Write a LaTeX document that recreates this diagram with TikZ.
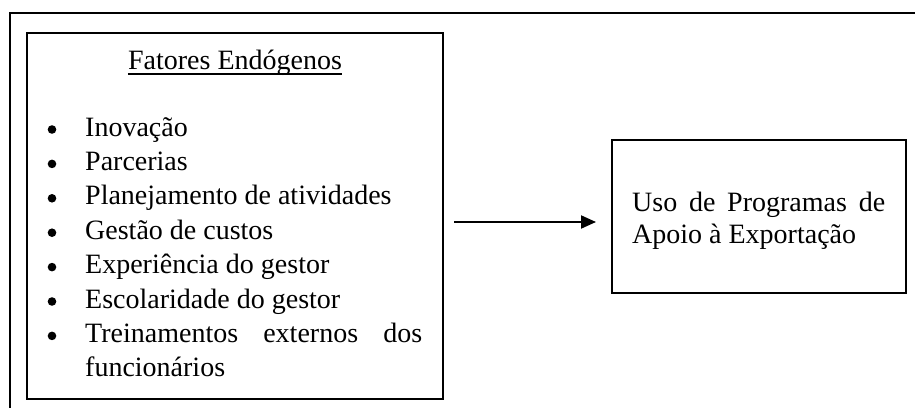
\documentclass[tikz,border=0pt]{standalone}
\usepackage{fontspec}
\setmainfont{Liberation Serif}
\usetikzlibrary{arrows.meta}
\begin{document}
\begin{tikzpicture}[x=1pt,y=1pt,
  frame/.style={line width=2.4pt},
  box/.style={draw, line width=2pt, rectangle, inner sep=0pt},
  txt/.style={anchor=base west, inner sep=0pt, font=\fontsize{28}{34}\selectfont},
  dot/.style={circle, fill, inner sep=0pt, minimum size=8.6pt},
  flow/.style={line width=2pt, -{Triangle[length=15pt,width=13pt]}}]
\useasboundingbox (0,0) rectangle (915,408);

% outer frame (top and left edges)
\draw[frame] (915,395) -- (10,395) -- (10,0);

% boxes
\node[box, minimum width=416pt, minimum height=366pt] (endo) at (235,192) {};
\node[box, minimum width=294pt, minimum height=153pt] (prog) at (759,191.5) {};

% heading of the left box
\node[txt, anchor=base] (head) at (235,338) {Fatores Endógenos};
\draw[line width=1.4pt] ([yshift=-4pt]head.base west) -- ([yshift=-4pt]head.base east);

% bullet list
\foreach \y/\t/\n in {272/Inovação/i1, 237.6/Parcerias/i2, 203.2/Planejamento de atividades/i3,
  168.8/Gestão de custos/i4, 134.4/Experiência do gestor/i5, 100/Escolaridade do gestor/i6}{
  \node[dot] (b\n) at (52,\y+6.5) {};
  \node[txt] (\n) at (85,\y) {\t};
}
\node[dot] (bi7) at (52,72.1) {};
\node[txt] (i7) at (85,65.6) {\makebox[337pt][s]{Treinamentos externos dos}};
\node[txt] (i8) at (85,31.2) {funcionários};

% text of the right box
\node[txt] (p1) at (632,196.3) {\makebox[253pt][s]{Uso de Programas de}};
\node[txt] (p2) at (632,164.7) {Apoio à Exportação};

% connector
\draw[flow] ([shift={(10pt,-6pt)}]endo.east) -- ([shift={(-15pt,-5.5pt)}]prog.west);
\end{tikzpicture}
\end{document}
